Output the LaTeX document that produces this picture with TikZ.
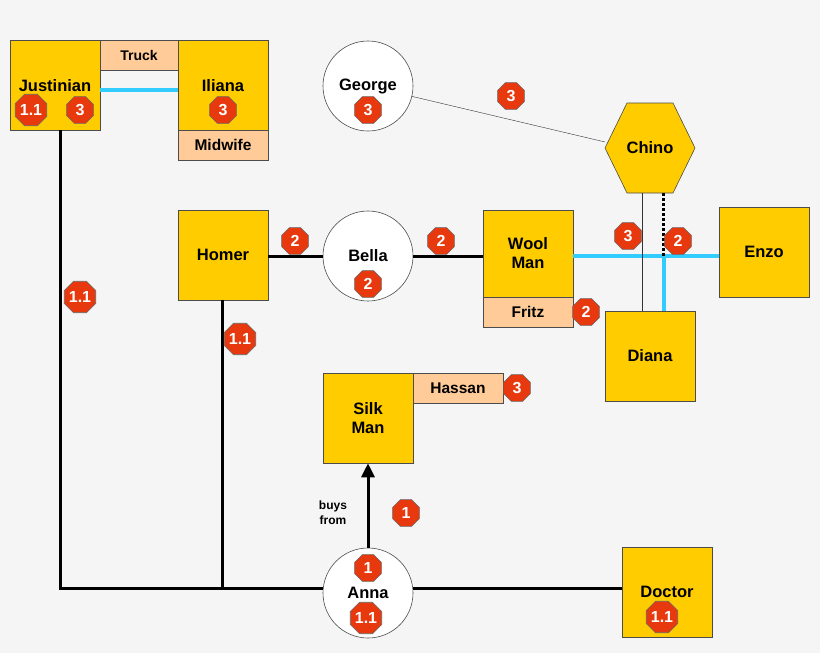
\documentclass[tikz,border=0pt]{standalone}
\usepackage{fontspec}
\setmainfont{Liberation Sans}
\usetikzlibrary{shapes.geometric, positioning, arrows.meta}
\definecolor{gold}{HTML}{FFCC00}
\definecolor{peach}{HTML}{FFCC99}
\definecolor{stopred}{HTML}{E8380D}
\definecolor{sky}{HTML}{33CCFF}
\definecolor{paper}{HTML}{F5F5F5}
\begin{document}
\begin{tikzpicture}[x=1pt, y=-1pt, semithick,
  font=\fontsize{16.5}{19}\selectfont\bfseries]
\tikzset{
  person/.style={draw=black!70, fill=gold, minimum size=90pt, inner sep=0pt, align=center},
  role/.style={draw=black!70, fill=peach, minimum width=90pt, minimum height=30pt, inner sep=0pt, font=\fontsize{15.5}{17}\selectfont\bfseries},
  circ/.style={draw=black!70, fill=white, circle, minimum size=90pt, inner sep=0pt},
  badge/.style={regular polygon, regular polygon sides=8, draw=black!60, fill=stopred, text=white, minimum size=29pt, inner sep=0pt, font=\fontsize{16}{18}\selectfont\bfseries},
  tie/.style={black, line width=3pt},
  love/.style={sky, line width=4pt},
  link/.style={black!80, thin}
}
\useasboundingbox[fill=paper] (0,0) rectangle (820,653);
% boxes
\node[person] (just) at (55,85) {};
\node at (55,86) {Justinian};
\node[role, minimum width=78pt, font=\fontsize{14}{16}\selectfont\bfseries] (truck) at (139,55) {Truck};
\node[person] (iliana) at (223,85) {};
\node at (223,86) {Iliana};
\node[role] (midwife) at (223,145) {Midwife};
\node[circ] (george) at (368,86) {};
\node at (368,86) {George};
\path[draw=black!70, fill=gold] (605,148) -- (627,103) -- (673,103) -- (695,148) -- (673,193) -- (627,193) -- cycle;
\node (chino) at (650,148) {Chino};
\coordinate (chinoW) at (605,142);
\coordinate (chinoS1) at (642,193);
\coordinate (chinoS2) at (663,193);
\node[person] (homer) at (223,255) {Homer};
\node[circ] (bella) at (368,256) {};
\node at (368,256) {Bella};
\node[person, minimum height=87pt] (wool) at (528,253.5) {Wool\\Man};
\node[role] (fritz) at (528,312) {Fritz};
\node[person] (enzo) at (764,252) {Enzo};
\node[person] (diana) at (650,356) {Diana};
\node[person] (silk) at (368,418) {Silk\\Man};
\node[role] (hassan) at (458,388) {Hassan};
\node[circ] (anna) at (368,593) {};
\node at (368,593) {Anna};
\node[person] (doctor) at (667,592) {Doctor};
% connectors
\coordinate (jfoot) at (60,588);
\coordinate (hfoot) at (222,588);
\coordinate (jtop) at (60,130);
\coordinate (htop) at (222,300);
\coordinate (cross) at (664,256);
\draw[love] (just.east |- 0,90) -- (iliana.west |- 0,90);
\draw[link] (george) -- (chinoW);
\draw[tie] (homer.east |- 0,256) -- (bella.west |- 0,256);
\draw[tie] (bella.east |- 0,256) -- (wool.west |- 0,256);
\draw[love] (wool.east |- 0,256) -- (enzo.west |- 0,256);
\draw[love] (cross) -- (cross |- diana.north);
\draw[link] (chinoS1) -- (chinoS1 |- diana.north);
\draw[black, line width=3pt, dotted] (chinoS2) -- (chinoS2 |- 0,256);
\draw[tie] (jtop) -- (jfoot) -- (anna.west |- jfoot);
\draw[tie] (htop) -- (hfoot);
\draw[tie] (anna.east |- jfoot) -- (doctor.west |- jfoot);
\draw[tie, -{Triangle[length=14pt, width=13pt]}] (anna) -- (silk);
\node[align=center, font=\fontsize{12}{15}\selectfont\bfseries] (buys) at (333,513) {buys\\from};
% badges
\node[badge] (b1) at (31,110) {1.1};
\node[badge] (b2) at (80,110) {3};
\node[badge] (b3) at (223,110) {3};
\node[badge] (b4) at (368,110) {3};
\node[badge] (b5) at (511,96) {3};
\node[badge] (b6) at (295,241) {2};
\node[badge] (b7) at (368,284) {2};
\node[badge] (b8) at (441,241) {2};
\node[badge] (b9) at (586,312) {2};
\node[badge] (b10) at (628,236) {3};
\node[badge] (b11) at (678,241) {2};
\node[badge] (b12) at (80,297) {1.1};
\node[badge] (b13) at (240,339) {1.1};
\node[badge] (b14) at (517,388) {3};
\node[badge] (b15) at (406,513) {1};
\node[badge] (b16) at (368,568) {1};
\node[badge] (b17) at (366,618) {1.1};
\node[badge] (b18) at (662,617) {1.1};
\end{tikzpicture}
\end{document}
